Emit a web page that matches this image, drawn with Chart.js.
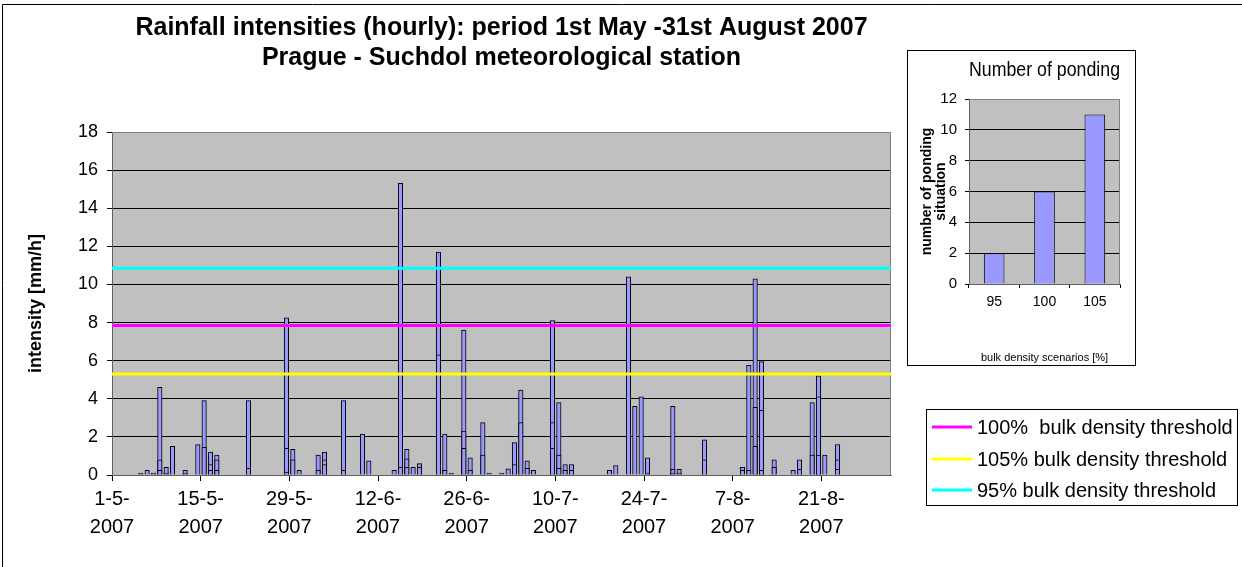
<!DOCTYPE html>
<html>
<head>
<meta charset="utf-8">
<script src="https://cdn.jsdelivr.net/npm/chart.js@4"></script>
<style>
  html, body { margin: 0; padding: 0; background: #fff; }
  #wrap { position: relative; width: 1242px; height: 567px; overflow: hidden; }
  #main { position: absolute; left: 0; top: 0; }
  #inset { position: absolute; left: 907px; top: 50px; width: 227px; height: 314px; border: 1px solid #000; background: #fff; }
</style>
</head>
<body>
<div id="wrap">
  <canvas id="main" width="1242" height="567"></canvas>
  <div id="inset"><canvas id="ponding" width="227" height="314"></canvas></div>
</div>
<script>
// hourly rainfall, one entry per rainy day (d-m-yyyy)
const rainDates = [
  "5-5-2007", "6-5-2007", "7-5-2007", "8-5-2007", "9-5-2007", "10-5-2007", "12-5-2007", "14-5-2007",
  "15-5-2007", "16-5-2007", "17-5-2007", "22-5-2007", "28-5-2007", "29-5-2007", "30-5-2007",
  "2-6-2007", "3-6-2007", "6-6-2007", "9-6-2007", "10-6-2007", "14-6-2007", "15-6-2007", "16-6-2007",
  "17-6-2007", "18-6-2007", "21-6-2007", "22-6-2007", "23-6-2007", "25-6-2007", "26-6-2007",
  "28-6-2007", "29-6-2007", "1-7-2007", "2-7-2007", "3-7-2007", "4-7-2007", "5-7-2007", "6-7-2007",
  "9-7-2007", "10-7-2007", "11-7-2007", "12-7-2007", "18-7-2007", "19-7-2007", "21-7-2007",
  "22-7-2007", "23-7-2007", "24-7-2007", "28-7-2007", "29-7-2007", "2-8-2007", "8-8-2007",
  "9-8-2007", "10-8-2007", "11-8-2007", "13-8-2007", "16-8-2007", "17-8-2007", "19-8-2007",
  "20-8-2007", "21-8-2007", "23-8-2007"
];
// highest hourly intensity of the day [mm/h]
const rainMax = [
  0.1, 0.25, 0.1, 4.6, 0.4, 1.5, 0.25, 1.6,
  3.9, 1.2, 1.05, 3.9, 8.25, 1.35, 0.25,
  1.05, 1.2, 3.9, 2.15, 0.75, 0.25, 15.3, 1.35,
  0.4, 0.6, 11.7, 2.15, 0.1, 7.6, 0.9,
  2.75, 0.1, 0.1, 0.33, 1.7, 4.45, 0.75, 0.25,
  8.1, 3.8, 0.55, 0.55, 0.25, 0.5, 10.4,
  3.6, 4.1, 0.9, 3.6, 0.3, 1.85, 0.4,
  5.75, 10.3, 5.95, 0.8, 0.25, 0.8, 3.8,
  5.2, 1.05, 1.6
];
// other hours of the same day (drawn over the first bar)
const rainSecond = [
  null, null, null, 0.8, 0.1, null, 0.1, null,
  1.45, 0.55, 0.8, 0.35, 1.4, 0.8, null,
  0.25, 0.8, 0.25, null, null, null, 0.4, 0.85,
  null, 0.4, 6.3, 0.25, null, 2.3, 0.25,
  1.05, null, null, null, 0.55, 2.75, 0.35, null,
  2.75, 1.05, 0.25, 0.25, null, null, null,
  null, null, 0.1, 0.3, 0.1, 0.8, 0.25,
  0.25, 3.55, 3.4, 0.4, null, 0.3, 1.05,
  4.1, null, 0.8
];
const rainThird = [
  null, null, null, 0.25, null, null, null, null,
  null, 0.25, 0.25, null, 0.15, null, null,
  null, 0.55, null, null, null, null, null, 0.4,
  null, null, null, null, null, 1.4, null,
  null, null, null, null, null, null, null, null,
  1.4, 0.35, null, null, null, null, null,
  null, null, null, 0.1, null, null, null,
  null, 1.5, 0.25, null, null, null, null,
  1.05, null, 0.3
];
const tickLabels = ["1-5-2007", "15-5-2007", "29-5-2007", "12-6-2007", "26-6-2007",
  "10-7-2007", "24-7-2007", "7-8-2007", "21-8-2007"];
const thresholdNames = ["100%  bulk density threshold", "105% bulk density threshold", "95% bulk density threshold"];
const thresholdValues = [7.85, 5.3, 10.85];
const thresholdColors = ["#FF00FF", "#FFFF00", "#00FFFF"];

// inset chart
const scenarios = ["95", "100", "105"];
const pondingCounts = [2, 6, 11];

const startMs = Date.UTC(2007, 4, 1);
function dayOf(s) {
  const p = s.split("-").map(Number);
  return (Date.UTC(p[2], p[1] - 1, p[0]) - startMs) / 86400000;
}
const tickDays = tickLabels.map(dayOf);
const lastDay = dayOf("1-9-2007");

function barSet(vals, order) {
  const pts = [];
  rainDates.forEach((d, i) => {
    if (vals[i] != null) pts.push({ x: dayOf(d) + 0.55, y: vals[i] });
  });
  return {
    type: "bar",
    data: pts,
    backgroundColor: "#9999FF",
    borderColor: "#000",
    borderWidth: 1,
    barThickness: 4.5,
    grouped: false,
    order: order
  };
}

const datasets = [barSet(rainMax, 3), barSet(rainSecond, 2), barSet(rainThird, 1)];
thresholdNames.forEach((name, i) => {
  datasets.push({
    type: "line",
    label: name,
    data: [{ x: 0, y: thresholdValues[i] }, { x: lastDay, y: thresholdValues[i] }],
    borderColor: thresholdColors[i],
    borderWidth: 3,
    pointRadius: 0,
    order: 0
  });
});

const plotBg = {
  id: "plotBg",
  beforeDraw(chart) {
    const a = chart.chartArea, ctx = chart.ctx;
    ctx.save();
    ctx.fillStyle = "#C0C0C0";
    ctx.fillRect(a.left, a.top, a.right - a.left, a.bottom - a.top);
    ctx.restore();
  },
  beforeDatasetsDraw(chart) {
    const a = chart.chartArea, ctx = chart.ctx;
    ctx.save();
    ctx.strokeStyle = "#808080";
    ctx.lineWidth = 1;
    ctx.beginPath();
    ctx.moveTo(a.left, a.top + 0.5);
    ctx.lineTo(a.right - 0.5, a.top + 0.5);
    ctx.lineTo(a.right - 0.5, a.bottom);
    ctx.stroke();
    ctx.restore();
  }
};

// frame + threshold legend of the main chart
const mainDecor = {
  id: "mainDecor",
  afterDraw(chart) {
    const ctx = chart.ctx;
    ctx.save();
    ctx.strokeStyle = "#000";
    ctx.lineWidth = 1;
    ctx.beginPath();
    ctx.moveTo(2.5, 567);
    ctx.lineTo(2.5, 4.5);
    ctx.lineTo(1242, 4.5);
    ctx.stroke();

    ctx.fillStyle = "#fff";
    ctx.fillRect(926.5, 409.5, 311, 96);
    ctx.strokeRect(926.5, 409.5, 311, 96);
    ctx.font = "20px Arial, 'Liberation Sans', sans-serif";
    ctx.textBaseline = "middle";
    const rows = [427, 459, 490];
    thresholdNames.forEach((name, i) => {
      ctx.strokeStyle = thresholdColors[i];
      ctx.lineWidth = 3;
      ctx.beginPath();
      ctx.moveTo(932, rows[i]);
      ctx.lineTo(972, rows[i]);
      ctx.stroke();
      ctx.fillStyle = "#000";
      ctx.fillText(name, 977, rows[i] + 1);
    });
    ctx.restore();
  }
};

new Chart(document.getElementById("main"), {
  data: { datasets: datasets },
  options: {
    responsive: false,
    animation: false,
    devicePixelRatio: 1,
    layout: { padding: { left: 0, right: 351, top: 0, bottom: 0 } },
    plugins: {
      legend: { display: false },
      tooltip: { enabled: false },
      title: {
        display: true,
        fullSize: false,
        text: ["Rainfall intensities (hourly): period 1st May -31st August 2007",
               "Prague - Suchdol meteorological station"],
        color: "#000",
        font: { family: "Arial, 'Liberation Sans', sans-serif", size: 25, weight: "bold", lineHeight: 1.2 },
        padding: { top: 13, bottom: 59 }
      }
    },
    scales: {
      x: {
        type: "linear",
        offset: false,
        min: 0,
        max: lastDay,
        afterFit(s) { s.height = 92; },
        afterBuildTicks(s) { s.ticks = tickDays.map(v => ({ value: v })); },
        ticks: {
          autoSkip: false,
          maxRotation: 0,
          padding: 4,
          color: "#000",
          font: { family: "Arial, 'Liberation Sans', sans-serif", size: 20, lineHeight: 1.4 },
          callback(v, i) {
            const t = tickLabels[i];
            const k = t.lastIndexOf("-");
            return [t.slice(0, k + 1), t.slice(k + 1)];
          }
        },
        grid: { offset: false, drawOnChartArea: false, drawTicks: true, tickLength: 6, color: "#000" },
        border: { color: "#606060", width: 1 }
      },
      y: {
        min: 0,
        max: 18,
        afterFit(s) { s.width = 112; },
        ticks: {
          stepSize: 2,
          padding: 9,
          color: "#000",
          font: { family: "Arial, 'Liberation Sans', sans-serif", size: 18 }
        },
        grid: {
          color: c => (c.tick && c.tick.value === 18 ? "rgba(0,0,0,0)" : "#000"),
          tickColor: "#000",
          tickLength: 5
        },
        border: { color: "#606060", width: 1 },
        title: {
          display: true,
          text: "intensity [mm/h]",
          color: "#000",
          font: { family: "Arial, 'Liberation Sans', sans-serif", size: 18, weight: "bold" },
          padding: { top: 25, bottom: 0 }
        }
      }
    }
  },
  plugins: [plotBg, mainDecor]
});

new Chart(document.getElementById("ponding"), {
  type: "bar",
  data: {
    labels: scenarios,
    datasets: [{
      data: pondingCounts,
      backgroundColor: "#9999FF",
      borderColor: "#000",
      borderWidth: 1,
      categoryPercentage: 1,
      barPercentage: 0.41
    }]
  },
  options: {
    responsive: false,
    animation: false,
    devicePixelRatio: 1,
    layout: { padding: { left: 0, right: 15, top: 0, bottom: 0 } },
    plugins: {
      legend: { display: false },
      tooltip: { enabled: false },
      title: {
        display: true,
        fullSize: false,
        text: "Number of ponding",
        color: "#000",
        font: { family: "Arial, 'Liberation Sans', sans-serif", size: 20, weight: "normal", lineHeight: 1.2 },
        padding: { top: 7, bottom: 17 }
      }
    },
    scales: {
      x: {
        afterFit(s) { s.height = 81; },
        ticks: {
          padding: 6,
          color: "#000",
          font: { family: "Arial, 'Liberation Sans', sans-serif", size: 14 }
        },
        grid: { drawOnChartArea: false, drawTicks: true, tickLength: 4, color: "#000", offset: true },
        border: { color: "#606060" },
        title: {
          display: true,
          text: "bulk density scenarios [%]",
          color: "#000",
          font: { family: "Arial, 'Liberation Sans', sans-serif", size: 11 },
          padding: { top: 6, bottom: 0 }
        }
      },
      y: {
        min: 0,
        max: 12,
        afterFit(s) { s.width = 61; },
        ticks: {
          stepSize: 2,
          padding: 8,
          color: "#000",
          font: { family: "Arial, 'Liberation Sans', sans-serif", size: 15 }
        },
        grid: {
          color: c => (c.tick && c.tick.value === 12 ? "rgba(0,0,0,0)" : "#000"),
          tickColor: "#000",
          tickLength: 4
        },
        border: { color: "#606060" },
        title: {
          display: true,
          text: ["number of ponding", "situation"],
          color: "#000",
          font: { family: "Arial, 'Liberation Sans', sans-serif", size: 14, weight: "bold", lineHeight: 1 },
          padding: { top: 12, bottom: 0 }
        }
      }
    }
  },
  plugins: [plotBg]
});
</script>
</body>
</html>
